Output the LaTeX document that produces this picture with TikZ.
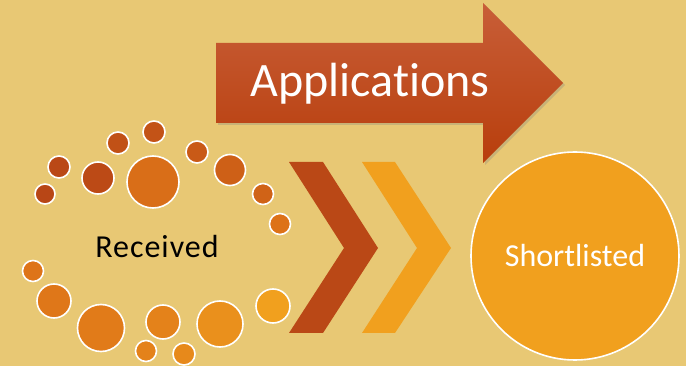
\documentclass[tikz,border=0pt]{standalone}
\usepackage{fontspec}
\setmainfont{Carlito}[Ligatures={NoCommon}]
\usetikzlibrary{positioning}
\usetikzlibrary{shadows}
\definecolor{bgsand}{RGB}{232,200,116}
\definecolor{rust}{RGB}{184,70,22}
\definecolor{tangerine}{RGB}{221,114,24}
\definecolor{amber}{RGB}{241,160,30}
\definecolor{arrowtop}{RGB}{200,94,56}
\definecolor{arrowbot}{RGB}{184,62,12}

\begin{document}
\begin{tikzpicture}[x=1pt,y=-1pt,
		bubble/.style={circle,draw=white,line width=1.6pt,inner sep=0pt,minimum size=#1},
		label/.style={inner sep=0pt,font=\fontsize{#1}{#1}\selectfont}]
		\fill[bgsand] (0,0) rectangle (686,366);
		\useasboundingbox (0,0) rectangle (686,366);

		% big arrow
		\path[top color=arrowtop,bottom color=arrowbot,
			drop shadow={shadow xshift=2pt,shadow yshift=-2pt,opacity=0.3}]
			(216,43) -- (483,43) -- (483,3) -- (563,83) -- (483,163) -- (483,123) -- (216,123) -- cycle;
		\node[label=48,text=white] (apps) at (370,84) {Applications};

		% chevrons
		\fill[rust!95!tangerine] (289,162) -- (323,162) -- (378,248) -- (323,333) -- (289,333) -- (344,248) -- cycle;
		\fill[amber] (362,162) -- (395,162) -- (451,248) -- (395,333) -- (362,333) -- (417,248) -- cycle;

		% ring of bubbles
		\node[bubble=20pt,fill=rust]                (b1)  at (45,194)  {};
		\node[bubble=22pt,fill=rust!95!tangerine]   (b2)  at (59,167)  {};
		\node[bubble=32pt,fill=rust!90!tangerine]   (b3)  at (98,178)  {};
		\node[bubble=22pt,fill=rust!75!tangerine]   (b4)  at (118,143) {};
		\node[bubble=22pt,fill=rust!70!tangerine]   (b5)  at (154,132) {};
		\node[bubble=52pt,fill=tangerine!90!rust]   (b6)  at (153,182) {};
		\node[bubble=22pt,fill=rust!55!tangerine]   (b7)  at (197,152) {};
		\node[bubble=31pt,fill=rust!40!tangerine]   (b8)  at (230,170) {};
		\node[bubble=21pt,fill=rust!35!tangerine]   (b9)  at (263,194) {};
		\node[bubble=21pt,fill=tangerine]           (b10) at (280,224) {};
		\node[bubble=21pt,fill=tangerine!95!amber]  (b11) at (33,271)  {};
		\node[bubble=34pt,fill=tangerine!90!amber]  (b12) at (54,301)  {};
		\node[bubble=47pt,fill=tangerine!80!amber]  (b13) at (101,328) {};
		\node[bubble=21pt,fill=tangerine!65!amber]  (b14) at (146,351) {};
		\node[bubble=34pt,fill=tangerine!65!amber]  (b15) at (163,322) {};
		\node[bubble=22pt,fill=tangerine!50!amber]  (b16) at (184,354) {};
		\node[bubble=46pt,fill=tangerine!35!amber]  (b17) at (220,324) {};
		\node[bubble=34pt,fill=amber]               (b18) at (273,306) {};

		\node[label=32,text=black] (recv) at (157,247) {\addfontfeature{LetterSpace=3}Received};

		% shortlisted
		\node[circle,draw=white,line width=1.6pt,fill=amber,minimum size=208pt,
			font=\fontsize{32}{32}\selectfont,text=white] (short) at (575,256) {Shortlisted};
\end{tikzpicture}
\end{document}
